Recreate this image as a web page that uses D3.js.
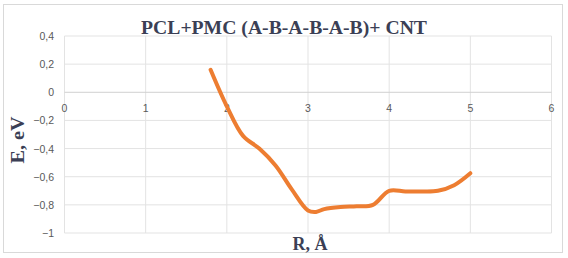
<!DOCTYPE html>
<html><head><meta charset="utf-8">
<script src="https://cdn.jsdelivr.net/npm/d3@7"></script>
<style>body{margin:0;background:#fff}</style>
</head><body>
<script>
const titleText = "PCL+PMC (A-B-A-B-A-B)+ CNT";
const xLabel = "R, Å";
const yLabel = "E, eV";
const rValues = [1.8, 2.0, 2.2, 2.4, 2.6, 2.8, 3.0, 3.1, 3.2, 3.4, 3.6, 3.8, 4.0, 4.2, 4.4, 4.6, 4.8, 5.0];
const eValues = [0.16, -0.10, -0.31, -0.40, -0.52, -0.69, -0.84, -0.85, -0.83, -0.815, -0.81, -0.80, -0.70, -0.705, -0.705, -0.70, -0.66, -0.575];
const xTicks = [0, 1, 2, 3, 4, 5, 6];
const yTicks = [0.4, 0.2, 0, -0.2, -0.4, -0.6, -0.8, -1];

const W = 568, H = 258;
const svg = d3.select("body").append("svg").attr("width", W).attr("height", H);
svg.append("rect").attr("x", 3.5).attr("y", 4.5).attr("width", 559).attr("height", 248)
  .attr("fill", "#fff").attr("stroke", "#d9d9d9");

const x = d3.scaleLinear().domain([0, 6]).range([64.5, 551.5]);
const y = d3.scaleLinear().domain([-1, 0.4]).range([233, 36]);

// gridlines
svg.append("g").selectAll("line").data(xTicks).join("line")
  .attr("x1", d => x(d)).attr("x2", d => x(d)).attr("y1", y(0.4)).attr("y2", y(-1))
  .attr("stroke", "#e3e3e3");
svg.append("g").selectAll("line").data(yTicks).join("line")
  .attr("x1", x(0)).attr("x2", x(6)).attr("y1", d => y(d)).attr("y2", d => y(d))
  .attr("stroke", d => d === 0 ? "#d0d0d0" : "#e3e3e3");

const fmt = d => d === 0 ? "0" : d3.format("")(d).replace(".", ",");
svg.append("g").selectAll("text").data(yTicks).join("text")
  .attr("x", 54).attr("y", d => y(d) + 4).attr("text-anchor", "end")
  .attr("font-family", "Liberation Sans, Arial, sans-serif").attr("font-size", 10.5)
  .attr("fill", "#595959").text(fmt);
svg.append("g").selectAll("text").data(xTicks).join("text")
  .attr("x", d => x(d)).attr("y", y(0) + 20).attr("text-anchor", "middle")
  .attr("font-family", "Liberation Sans, Arial, sans-serif").attr("font-size", 10.5)
  .attr("fill", "#595959").text(d => d);

const data = rValues.map((r, i) => [r, eValues[i]]);
const line = d3.line().x(d => x(d[0])).y(d => y(d[1])).curve(d3.curveCatmullRom.alpha(0.5));
svg.append("path").datum(data).attr("d", line).attr("fill", "none")
  .attr("stroke", "#ED7D31").attr("stroke-width", 4).attr("stroke-linecap", "round").attr("stroke-linejoin", "round");

const serif = "Liberation Serif, Times New Roman, serif";
svg.append("text").attr("x", 284).attr("y", 34).attr("text-anchor", "middle")
  .attr("font-family", serif).attr("font-weight", "bold").attr("font-size", 19.7)
  .attr("fill", "#3b3f55").text(titleText);
svg.append("text").attr("x", 310).attr("y", 250).attr("text-anchor", "middle")
  .attr("font-family", serif).attr("font-weight", "bold").attr("font-size", 18)
  .attr("fill", "#3b3f55").text(xLabel);
svg.append("text").attr("transform", "translate(24,140) rotate(-90)").attr("text-anchor", "middle")
  .attr("font-family", serif).attr("font-weight", "bold").attr("font-size", 18)
  .attr("textLength", 47).attr("lengthAdjust", "spacingAndGlyphs")
  .attr("fill", "#3b3f55").text(yLabel);
</script>
</body></html>
